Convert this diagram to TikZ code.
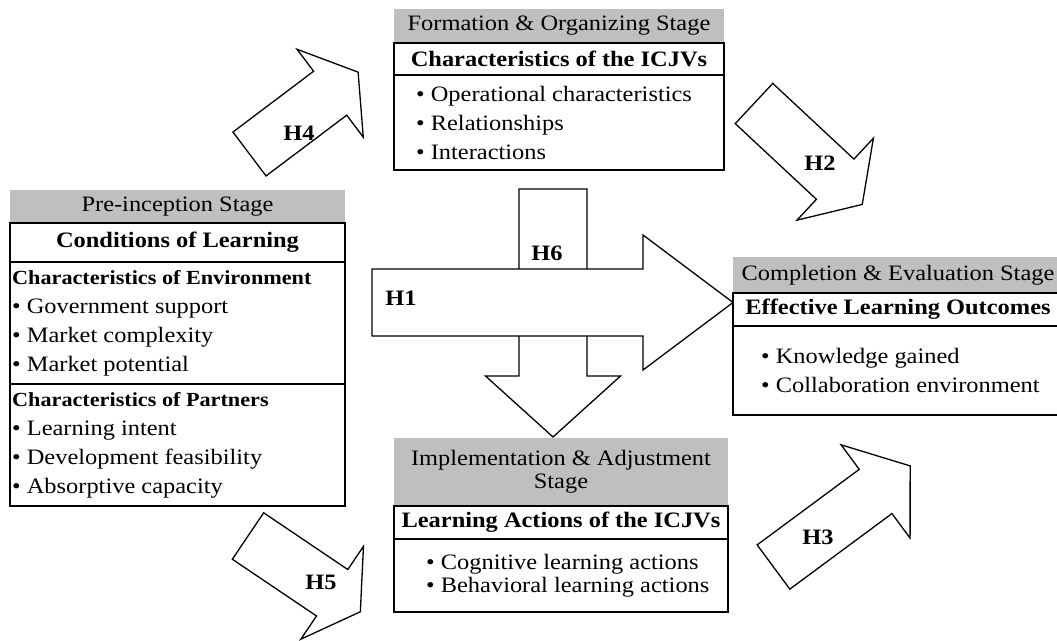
\documentclass[tikz,border=0pt]{standalone}
\usepackage{fontspec}
\setmainfont{Liberation Serif}[FakeStretch=1.11]
\usetikzlibrary{positioning}

\newcommand{\subhead}[1]{{\fontsize{20}{29}\selectfont\bfseries #1}}

\tikzset{
  boxline/.style={line width=1.3pt},
  stagehead/.style={fill=gray!50, inner sep=0pt, outer sep=0pt, align=center, font=\fontsize{22}{23}\selectfont},
  titlebox/.style={draw, boxline, inner sep=0pt, outer sep=0pt, font=\fontsize{22}{23}\selectfont\bfseries},
  itembox/.style={draw, boxline, inner sep=0pt, outer sep=0pt},
  itemlist/.style={inner sep=0pt, align=left, font=\fontsize{22}{29}\selectfont},
  arrowline/.style={draw, fill=white, boxline},
  hlabel/.style={inner sep=0pt, font=\fontsize{22}{23}\selectfont\bfseries},
  pics/hyparrow/.style n args={4}{code={
    \filldraw[arrowline] (0,-#2) -- (#1,-#2) -- (#1,-#4) -- (#1+#3,0) -- (#1,#4) -- (#1,#2) -- (0,#2) -- cycle;
  }},
}

\begin{document}
\begin{tikzpicture}[x=1pt,y=-1pt]
	\useasboundingbox (0,0) rectangle (1057,640);
	\clip (0,0) rectangle (1057,640);

	% pre-inception stage
	\node[stagehead, minimum width=335pt, minimum height=33pt, anchor=north west] (prehead) at (10,190) {Pre-inception Stage};
	\node[titlebox, minimum width=335pt, minimum height=39pt, below=0pt of prehead] (pretitle) {Conditions of Learning};
	\node[itembox, minimum width=335pt, minimum height=122pt, below=0pt of pretitle] (preenv) {};
	\node[itembox, minimum width=335pt, minimum height=122pt, below=0pt of preenv] (prepart) {};
	\node[itemlist, anchor=west] (envlist) at ([xshift=2pt]preenv.west)
		{\subhead{Characteristics of Environment}\\ \textbullet\ Government support\\ \textbullet\ Market complexity\\ \textbullet\ Market potential};
	\node[itemlist, anchor=west] (partlist) at ([xshift=2pt]prepart.west)
		{\subhead{Characteristics of Partners}\\ \textbullet\ Learning intent\\ \textbullet\ Development feasibility\\ \textbullet\ Absorptive capacity};

	% formation stage
	\node[stagehead, minimum width=330pt, minimum height=34pt, anchor=north west] (formhead) at (394,9) {Formation \& Organizing Stage};
	\node[titlebox, minimum width=330pt, minimum height=32pt, below=0pt of formhead] (formtitle) {Characteristics of the ICJVs};
	\node[itembox, minimum width=330pt, minimum height=95pt, below=0pt of formtitle] (formitems) {};
	\node[itemlist, anchor=west] (formlist) at ([xshift=22pt]formitems.west)
		{\textbullet\ Operational characteristics\\ \textbullet\ Relationships\\ \textbullet\ Interactions};

	% completion stage
	\node[stagehead, minimum width=330pt, minimum height=36pt, anchor=north west] (comphead) at (733,257) {Completion \& Evaluation Stage};
	\node[titlebox, minimum width=330pt, minimum height=33pt, below=0pt of comphead] (comptitle) {Effective Learning Outcomes};
	\node[itembox, minimum width=330pt, minimum height=89pt, below=0pt of comptitle] (compitems) {};
	\node[itemlist, anchor=west] (complist) at ([xshift=28pt]compitems.west)
		{\textbullet\ Knowledge gained\\ \textbullet\ Collaboration environment};

	% implementation stage
	\node[stagehead, minimum width=334pt, minimum height=68pt, anchor=north west] (implhead) at (394,438) {Implementation \& Adjustment\\ Stage};
	\node[titlebox, minimum width=334pt, minimum height=33pt, below=0pt of implhead] (impltitle) {Learning Actions of the ICJVs};
	\node[itembox, minimum width=334pt, minimum height=73pt, below=0pt of impltitle] (implitems) {};
	\node[itemlist, anchor=west, font=\fontsize{22}{23}\selectfont] (impllist) at ([xshift=32pt]implitems.west)
		{\textbullet\ Cognitive learning actions\\ \textbullet\ Behavioral learning actions};

	% hypothesis arrows
	\pic[rotate=-90] at (553,189) {hyparrow={187}{34}{61}{67.5}};
	\pic at (372,302.5) {hyparrow={271}{33.5}{90}{67.5}};
	\pic[rotate=37] at (249.5,154) {hyparrow={101}{27.5}{35}{55}};
	\pic[rotate=-43] at (754,103.5) {hyparrow={111}{27.5}{37}{56}};
	\pic[rotate=36.5] at (773.5,567) {hyparrow={127}{27.5}{43}{58}};
	\pic[rotate=-34] at (248,536) {hyparrow={101.5}{28}{34}{56}};

	\node[hlabel] (h1) at (401,298) {H1};
	\node[hlabel] (h2) at (820,163) {H2};
	\node[hlabel] (h3) at (818,537) {H3};
	\node[hlabel] (h4) at (299,133) {H4};
	\node[hlabel] (h5) at (321,582) {H5};
	\node[hlabel] (h6) at (547,253) {H6};
\end{tikzpicture}
\end{document}
